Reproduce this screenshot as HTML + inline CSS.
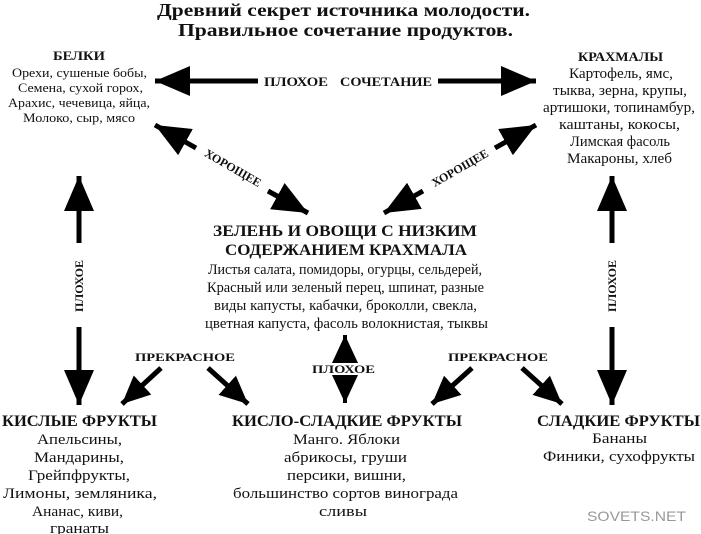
<!DOCTYPE html>
<html><head><meta charset="utf-8"><style>
html,body{margin:0;padding:0;background:#fff;}
svg{display:block;}
text{font-family:"Liberation Serif","Noto Serif CJK SC",serif;fill:#111;}
.b{font-weight:bold;}
</style></head><body>
<svg width="701" height="534" viewBox="0 0 701 534" xmlns="http://www.w3.org/2000/svg">
<defs>
<marker id="h" markerUnits="userSpaceOnUse" markerWidth="38" markerHeight="32" refX="35" refY="15" orient="auto-start-reverse"><path d="M0,0 L35,15 L0,30 z" fill="#000"/></marker>
<marker id="s" markerUnits="userSpaceOnUse" markerWidth="30" markerHeight="28" refX="28" refY="13" orient="auto-start-reverse"><path d="M0,0 L28,13 L0,26 z" fill="#000"/></marker>
</defs>
<g>
<text x="157" y="16" class="b" font-size="18" textLength="373" lengthAdjust="spacingAndGlyphs">Древний секрет источника молодости.</text>
<text x="178" y="36" class="b" font-size="18" textLength="335" lengthAdjust="spacingAndGlyphs">Правильное сочетание продуктов.</text>

<text x="53" y="60" class="b" font-size="13" textLength="52" lengthAdjust="spacingAndGlyphs">БЕЛКИ</text>
<text x="12" y="77" font-size="13" textLength="135" lengthAdjust="spacingAndGlyphs">Орехи, сушеные бобы,</text>
<text x="18" y="92" font-size="13" textLength="125" lengthAdjust="spacingAndGlyphs">Семена, сухой горох,</text>
<text x="8" y="107" font-size="13" textLength="142" lengthAdjust="spacingAndGlyphs">Арахис, чечевица, яйца,</text>
<text x="23" y="122" font-size="13" textLength="112" lengthAdjust="spacingAndGlyphs">Молоко, сыр, мясо</text>

<text x="578" y="61" class="b" font-size="13" textLength="85" lengthAdjust="spacingAndGlyphs">КРАХМАЛЫ</text>
<text x="569" y="78" font-size="14.5" textLength="104" lengthAdjust="spacingAndGlyphs">Картофель, ямс,</text>
<text x="553" y="95" font-size="14.5" textLength="134" lengthAdjust="spacingAndGlyphs">тыква, зерна, крупы,</text>
<text x="543" y="112" font-size="14.5" textLength="152" lengthAdjust="spacingAndGlyphs">артишоки, топинамбур,</text>
<text x="559" y="129" font-size="14.5" textLength="121" lengthAdjust="spacingAndGlyphs">каштаны, кокосы,</text>
<text x="570" y="146" font-size="14.5" textLength="100" lengthAdjust="spacingAndGlyphs">Лимская фасоль</text>
<text x="567" y="163" font-size="14.5" textLength="105" lengthAdjust="spacingAndGlyphs">Макароны, хлеб</text>

<text x="213" y="236" class="b" font-size="16" textLength="264" lengthAdjust="spacingAndGlyphs">ЗЕЛЕНЬ И ОВОЩИ С НИЗКИМ</text>
<text x="225" y="255" class="b" font-size="16" textLength="242" lengthAdjust="spacingAndGlyphs">СОДЕРЖАНИЕМ КРАХМАЛА</text>
<text x="208" y="274" font-size="15" textLength="274" lengthAdjust="spacingAndGlyphs">Листья салата, помидоры, огурцы, сельдерей,</text>
<text x="207" y="292" font-size="15" textLength="277" lengthAdjust="spacingAndGlyphs">Красный или зеленый перец, шпинат, разные</text>
<text x="214" y="310" font-size="15" textLength="263" lengthAdjust="spacingAndGlyphs">виды капусты, кабачки, броколли, свекла,</text>
<text x="205" y="328" font-size="15" textLength="283" lengthAdjust="spacingAndGlyphs">цветная капуста, фасоль волокнистая, тыквы</text>

<text x="135" y="361" class="b" font-size="12" textLength="100" lengthAdjust="spacingAndGlyphs">ПРЕКРАСНОЕ</text>
<text x="448" y="361" class="b" font-size="12" textLength="100" lengthAdjust="spacingAndGlyphs">ПРЕКРАСНОЕ</text>
<text x="312" y="373" class="b" font-size="12" textLength="63" lengthAdjust="spacingAndGlyphs">ПЛОХОЕ</text>

<text x="2" y="426" class="b" font-size="16" textLength="155" lengthAdjust="spacingAndGlyphs">КИСЛЫЕ ФРУКТЫ</text>
<text x="37" y="444" font-size="14.5" textLength="85" lengthAdjust="spacingAndGlyphs">Апельсины,</text>
<text x="34" y="462" font-size="14.5" textLength="90" lengthAdjust="spacingAndGlyphs">Мандарины,</text>
<text x="28" y="480" font-size="14.5" textLength="102" lengthAdjust="spacingAndGlyphs">Грейпфрукты,</text>
<text x="3" y="498" font-size="14.5" textLength="154" lengthAdjust="spacingAndGlyphs">Лимоны, земляника,</text>
<text x="32" y="516" font-size="14.5" textLength="91" lengthAdjust="spacingAndGlyphs">Ананас, киви,</text>
<text x="50" y="533" font-size="14.5" textLength="59" lengthAdjust="spacingAndGlyphs">гранаты</text>

<text x="232" y="426" class="b" font-size="16" textLength="230" lengthAdjust="spacingAndGlyphs">КИСЛО-СЛАДКИЕ ФРУКТЫ</text>
<text x="293" y="444" font-size="14.5" textLength="107" lengthAdjust="spacingAndGlyphs">Манго. Яблоки</text>
<text x="284" y="462" font-size="14.5" textLength="123" lengthAdjust="spacingAndGlyphs">абрикосы, груши</text>
<text x="287" y="480" font-size="14.5" textLength="119" lengthAdjust="spacingAndGlyphs">персики, вишни,</text>
<text x="233" y="498" font-size="14.5" textLength="225" lengthAdjust="spacingAndGlyphs">большинство сортов винограда</text>
<text x="319" y="516" font-size="14.5" textLength="48" lengthAdjust="spacingAndGlyphs">сливы</text>

<text x="537" y="426" class="b" font-size="16" textLength="163" lengthAdjust="spacingAndGlyphs">СЛАДКИЕ ФРУКТЫ</text>
<text x="592" y="443" font-size="14.5" textLength="55" lengthAdjust="spacingAndGlyphs">Бананы</text>
<text x="543" y="461" font-size="14.5" textLength="152" lengthAdjust="spacingAndGlyphs">Финики, сухофрукты</text>
</g>
<text x="587" y="521" font-size="14" textLength="99" lengthAdjust="spacingAndGlyphs" style="font-family:'Liberation Sans',sans-serif;fill:#999">SOVETS.NET</text>

<!-- horizontal -->
<text x="264" y="86" class="b" font-size="13" textLength="64" lengthAdjust="spacingAndGlyphs">ПЛОХОЕ</text>
<text x="340" y="86" class="b" font-size="13" textLength="92" lengthAdjust="spacingAndGlyphs">СОЧЕТАНИЕ</text>
<line x1="258" y1="81" x2="155" y2="81" stroke="#000" stroke-width="5" marker-end="url(#h)"/>
<line x1="438" y1="81" x2="536" y2="81" stroke="#000" stroke-width="5" marker-end="url(#h)"/>

<!-- diagonals -->
<line x1="196" y1="148" x2="155" y2="125" stroke="#000" stroke-width="5" marker-end="url(#h)"/>
<line x1="268" y1="191" x2="308" y2="213" stroke="#000" stroke-width="5" marker-end="url(#h)"/>
<text x="233" y="172" class="b" font-size="12" text-anchor="middle" transform="rotate(30 233 168)">ХОРОЩЕЕ</text>

<line x1="495" y1="148" x2="536" y2="125" stroke="#000" stroke-width="5" marker-end="url(#h)"/>
<line x1="423" y1="191" x2="384" y2="213" stroke="#000" stroke-width="5" marker-end="url(#h)"/>
<text x="460" y="172" class="b" font-size="12" text-anchor="middle" transform="rotate(-30 460 168)">ХОРОЩЕЕ</text>

<!-- verticals -->
<line x1="79" y1="243" x2="79" y2="176" stroke="#000" stroke-width="5" marker-end="url(#h)"/>
<line x1="79" y1="327" x2="79" y2="405" stroke="#000" stroke-width="5" marker-end="url(#h)"/>
<text x="79" y="290" class="b" font-size="12" text-anchor="middle" transform="rotate(-90 79 286)">ПЛОХОЕ</text>

<line x1="612" y1="243" x2="612" y2="176" stroke="#000" stroke-width="5" marker-end="url(#h)"/>
<line x1="612" y1="327" x2="612" y2="405" stroke="#000" stroke-width="5" marker-end="url(#h)"/>
<text x="612" y="290" class="b" font-size="12" text-anchor="middle" transform="rotate(-90 612 286)">ПЛОХОЕ</text>

<!-- small center vertical -->
<line x1="345" y1="361" x2="345" y2="335" stroke="#000" stroke-width="4" marker-end="url(#s)"/>
<line x1="345" y1="377" x2="345" y2="403" stroke="#000" stroke-width="4" marker-end="url(#s)"/>

<!-- прекрасное arrows -->
<line x1="161" y1="368" x2="122" y2="404" stroke="#000" stroke-width="5" marker-end="url(#s)"/>
<line x1="208" y1="368" x2="248" y2="404" stroke="#000" stroke-width="5" marker-end="url(#s)"/>
<line x1="472" y1="368" x2="432" y2="404" stroke="#000" stroke-width="5" marker-end="url(#s)"/>
<line x1="522" y1="368" x2="562" y2="404" stroke="#000" stroke-width="5" marker-end="url(#s)"/>
</svg>
</body></html>
